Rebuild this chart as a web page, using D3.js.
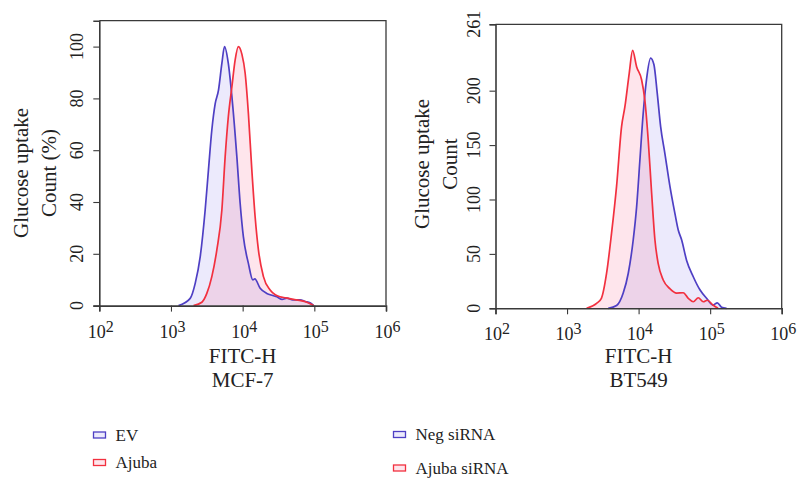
<!DOCTYPE html>
<html>
<head>
<meta charset="utf-8">
<script src="https://cdn.jsdelivr.net/npm/d3@7"></script>
<style>
  html, body { margin: 0; padding: 0; background: #fff; }
  svg text { font-family: "Liberation Serif", "DejaVu Serif", serif; fill: #222; }
</style>
</head>
<body>
<svg id="chart" width="800" height="478"></svg>
<script>
// ---------------- DATA ----------------
// Panel 1: MCF-7 (Count %)
const mcfEV_x    = [1274,1854,2178,2559,2999,3334,3715,4140,4603,5129,5585,6310,7079,8299,9226,10233,12023,13868,14791,17539,21727,26300,29992,35500,41400,50000,63096,75000,87096,97724];
const mcfEV_y    = [0,2.8,8.6,18.9,36.9,52.4,67.8,78,83.2,93.5,100,93.5,80.7,57.5,39.5,26.6,16.3,9.9,10.3,6.7,4.7,3.9,3.4,2.4,2.9,2.2,2.2,1.6,1.1,0];
const mcfAj_x    = [2061,2698,3162,3715,4365,5129,5702,6310,7079,7852,8710,9772,10839,12023,13428,14928,16596,19498,24155,28500,33113,40000,51286,62000,78524,97724];
const mcfAj_y    = [0,1.3,4.7,11.2,21.5,36.9,57.5,72.9,84.5,94.8,100,97,89.7,74.2,52.4,34.3,21.5,11.2,6.0,4.2,3.4,3.0,2.4,2.0,1.3,0];
// Panel 2: BT549 (Count)
const btNeg_x    = [3758,4920,6095,7161,8414,9376,10423,11588,12882,14723,16368,18197,20324,23335,27416,32211,35810,39902,46881,58076,71945,89125,109648,125893,144544,169824];
const btNeg_y    = [0,2.5,14,32,63,93,136,179,210,230,224,198,167,142,112,87,72,63,44,29,17,9.2,3,5,1,0];
const btAj_x     = [1875,2588,3020,3565,4188,4920,5781,6427,7396,8241,9376,11015,12246,13614,15205,16904,18793,22080,27416,33963,42073,49431,58076,68234,80168,91201,109648,128825];
const btAj_y     = [0,4.6,9.2,32,69,112,167,185,216,237,222,210,191,155,106,63,41,26,18,14,14.3,9.2,6,9.7,6,7.4,3,0];

const xTickExps   = [2,3,4,5,6];
const yTicksMCF   = [0,20,40,60,80,100];
const yTicksBT    = [0,50,100,150,200,261];
const seriesNames1 = ["EV","Ajuba"];
const seriesNames2 = ["Neg siRNA","Ajuba siRNA"];
const xTitle = "FITC-H";
const yTitle1 = ["Glucose uptake","Count (%)"];
const yTitle2 = ["Glucose uptake","Count"];
const cellLines = ["MCF-7","BT549"];

// ---------------- STYLE ----------------
const BLUE = "#4e3fc4", RED = "#f2303f";
const BLUE_FILL = "rgba(95,85,230,0.12)", RED_FILL = "rgba(245,70,120,0.14)";
const AXIS = "#3a3a3a";

const svg = d3.select("#chart");

function panel(cfg) {
  const g = svg.append("g");
  const x = d3.scaleLog().domain([1e2, 1e6]).range(cfg.xr);
  const y = d3.scaleLinear().domain([0, cfg.ymax]).range(cfg.yr);
  const top = y(cfg.ymax), bottom = y(0);

  // fills
  const area = d3.area().x(d => x(d[0])).y0(y(0)).y1(d => y(d[1])).curve(d3.curveMonotoneX);
  const line = d3.line().x(d => x(d[0])).y(d => y(d[1])).curve(d3.curveMonotoneX);
  cfg.series.forEach(s => {
    g.append("path").datum(d3.zip(s.x, s.y)).attr("d", area).attr("fill", s.fill).attr("stroke", "none");
  });
  cfg.series.forEach(s => {
    g.append("path").datum(d3.zip(s.x, s.y)).attr("d", line).attr("fill", "none")
      .attr("stroke", s.color).attr("stroke-width", 1.7).attr("stroke-linejoin", "round");
  });

  // frame (top + right)
  g.append("path").attr("d", `M${cfg.xr[0]},${top}H${cfg.xr[1]}V${bottom}`)
    .attr("fill", "none").attr("stroke", AXIS).attr("stroke-width", 1.3);

  // x axis with log minor ticks
  const xMinor = [];
  for (let e = 2; e < 6; e++) for (let m = 2; m <= 9; m++) xMinor.push(m * Math.pow(10, e));
  const xa = g.append("g").attr("transform", `translate(0,${bottom})`);
  xa.call(d3.axisBottom(x).tickValues(xMinor).tickSize(3).tickFormat(""));
  xa.call(d3.axisBottom(x).tickValues(xTickExps.map(e => Math.pow(10, e))).tickSize(6).tickFormat(""));
  xa.selectAll("path.domain").attr("stroke", AXIS).attr("stroke-width", 1.6);
  xa.selectAll("line").attr("stroke", AXIS).attr("stroke-width", 1.1);
  xTickExps.forEach(e => {
    const t = g.append("text").attr("x", x(Math.pow(10, e)) + 1.5).attr("y", bottom + 32)
      .attr("text-anchor", "middle").attr("font-size", 18);
    t.append("tspan").text("10");
    t.append("tspan").attr("dy", -6).attr("font-size", 16).text(String(e));
  });

  // y axis
  const ya = g.append("g").attr("transform", `translate(${cfg.xr[0]},0)`);
  ya.call(d3.axisLeft(y).tickValues(d3.range(0, cfg.ymax + 0.001, cfg.minorStep)).tickSize(3).tickFormat(""));
  ya.call(d3.axisLeft(y).tickValues(cfg.yTicks).tickSize(6).tickFormat(""));
  ya.selectAll("path.domain").attr("stroke", AXIS).attr("stroke-width", 1.6);
  ya.selectAll("line").attr("stroke", AXIS).attr("stroke-width", 1.1);
  cfg.yTicks.forEach(v => {
    g.append("text").attr("transform", `translate(${cfg.xr[0] - 16},${y(v)}) rotate(-90)`)
      .attr("text-anchor", "middle").attr("font-size", 18).text(v);
  });

  // y title
  cfg.yTitle.forEach((t, i) => {
    g.append("text").attr("transform", `translate(${cfg.yTitleX + i * 28},${cfg.yTitleY}) rotate(-90)`)
      .attr("text-anchor", "middle").attr("font-size", 21).text(t);
  });

  // x title
  const cx = (cfg.xr[0] + cfg.xr[1]) / 2;
  g.append("text").attr("x", cx).attr("y", 363).attr("text-anchor", "middle").attr("font-size", 21).text(xTitle);
  g.append("text").attr("x", cx).attr("y", 387).attr("text-anchor", "middle").attr("font-size", 21).text(cfg.cell);

  // legend
  cfg.series.forEach((s, i) => {
    const ly = cfg.legY[i];
    g.append("rect").attr("x", cfg.legX).attr("y", ly - 3).attr("width", 12).attr("height", 6)
      .attr("fill", s.fill).attr("stroke", s.color).attr("stroke-width", 1.3);
    g.append("text").attr("x", cfg.legX + 22).attr("y", ly + 5.5).attr("font-size", 17).text(s.name);
  });
}

panel({
  xr: [99.3, 386], yr: [305.6, 20.7], ymax: 110, minorStep: 5, yTicks: yTicksMCF,
  yTitle: yTitle1, yTitleX: 28, yTitleY: 173, cell: cellLines[0],
  legX: 93.5, legY: [435, 462.5],
  series: [
    {name: seriesNames1[0], x: mcfEV_x, y: mcfEV_y, color: BLUE, fill: BLUE_FILL},
    {name: seriesNames1[1], x: mcfAj_x, y: mcfAj_y, color: RED, fill: RED_FILL}
  ]
});
panel({
  xr: [495.5, 781.7], yr: [308.3, 24.3], ymax: 261, minorStep: 10, yTicks: yTicksBT,
  yTitle: yTitle2, yTitleX: 429, yTitleY: 164, cell: cellLines[1],
  legX: 393.5, legY: [434.5, 468],
  series: [
    {name: seriesNames2[0], x: btNeg_x, y: btNeg_y, color: BLUE, fill: BLUE_FILL},
    {name: seriesNames2[1], x: btAj_x, y: btAj_y, color: RED, fill: RED_FILL}
  ]
});
</script>
</body>
</html>
